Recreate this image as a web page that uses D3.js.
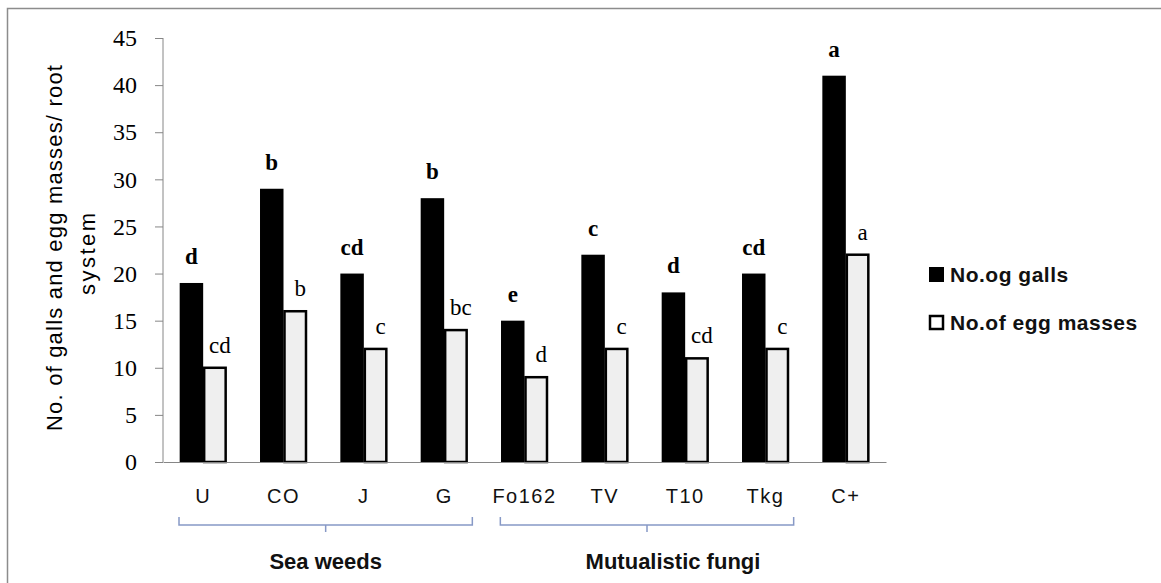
<!DOCTYPE html>
<html>
<head>
<meta charset="utf-8">
<script src="https://cdn.jsdelivr.net/npm/d3@7"></script>
<style>
  body { margin: 0; background: #fff; }
  svg { display: block; }
</style>
</head>
<body>
<div id="chart"></div>
<script>
// data
let categories = ['U', 'CO', 'J', 'G', 'Fo162', 'TV', 'T10', 'Tkg', 'C+'];
let series = ['No.og galls', 'No.of egg masses'];
let galls = [19, 29, 20, 28, 15, 22, 18, 20, 41];
let eggMasses = [10, 16, 12, 14, 9, 12, 11, 12, 22];
let gallLetters = ['d', 'b', 'cd', 'b', 'e', 'c', 'd', 'cd', 'a'];
let eggLetters = ['cd', 'b', 'c', 'bc', 'd', 'c', 'cd', 'c', 'a'];
let yTicks = [0, 5, 10, 15, 20, 25, 30, 35, 40, 45];
let groupNames = ['Sea weeds', 'Mutualistic fungi'];
let groupFirst = ['U', 'Fo162'];
let groupLast = ['G', 'Tkg'];

let width = 1161, height = 583;
let colors = ['#000000', '#efefef'];

let svg = d3.select('#chart').append('svg')
    .attr('width', width)
    .attr('height', height);

svg.append('rect')
    .attr('width', width).attr('height', height)
    .attr('fill', '#fff');

// outer frame (only left and top visible in the picture)
svg.append('rect')
    .attr('x', 7.5).attr('y', 8.5)
    .attr('width', 1300).attr('height', 700)
    .attr('fill', 'none')
    .attr('stroke', '#8c8c8c')
    .attr('stroke-width', 1.5);

let y = d3.scaleLinear().domain([0, 45]).range([462, 38]);
let x0 = d3.scaleBand().domain(categories).range([163, 886]);
let x1 = d3.scaleBand().domain(series).range([0, x0.bandwidth()]).paddingOuter(0.71);

// y axis
let yAxis = svg.append('g')
    .attr('transform', 'translate(163,0)')
    .call(d3.axisLeft(y).tickValues(yTicks).tickSize(8).tickPadding(18));
yAxis.selectAll('line, path').attr('stroke', '#868686');
yAxis.select('.domain').attr('d', 'M0,' + y(45) + 'V' + y(0));
yAxis.selectAll('text')
    .style('font-family', '"Liberation Serif", serif')
    .style('font-size', '24px')
    .attr('fill', '#000');

// bars
let rows = categories.map((c, i) => ({cat: c, vals: [galls[i], eggMasses[i]], letters: [gallLetters[i], eggLetters[i]]}));

let grp = svg.selectAll('.grp')
    .data(rows)
    .enter().append('g')
    .attr('class', 'grp')
    .attr('transform', d => 'translate(' + x0(d.cat) + ',0)');

grp.selectAll('rect')
    .data(d => d.vals.map((v, j) => ({s: series[j], v: v, j: j})))
    .enter().append('rect')
    .attr('x', d => x1(d.s) + (d.j === 1 ? 1 : 0))
    .attr('y', d => y(d.v))
    .attr('width', d => x1.bandwidth() - (d.j === 1 ? 2 : 0))
    .attr('height', d => y(0) - y(d.v))
    .attr('fill', d => colors[d.j])
    .attr('stroke', d => d.j === 1 ? '#000' : 'none')
    .attr('stroke-width', 2.5);

grp.selectAll('.lbl')
    .data(d => d.vals.map((v, j) => ({s: series[j], v: v, j: j, t: d.letters[j]})))
    .enter().append('text')
    .attr('class', 'lbl')
    .attr('x', d => x1(d.s) + x1.bandwidth() / 2 + (d.j === 1 ? 5 : 0))
    .attr('y', d => y(d.v) - (d.j === 0 ? 19 : 15))
    .attr('text-anchor', 'middle')
    .style('font-family', '"Liberation Serif", serif')
    .style('font-size', '23px')
    .style('font-weight', d => d.j === 0 ? 'bold' : 'normal')
    .attr('fill', '#000')
    .text(d => d.t);

// x axis
let xAxis = svg.append('g')
    .attr('transform', 'translate(0,' + y(0) + ')')
    .call(d3.axisBottom(x0).tickSize(0).tickPadding(27));
xAxis.select('.domain').attr('stroke', '#868686');
xAxis.selectAll('text')
    .style('font-family', '"Liberation Sans", sans-serif')
    .style('font-size', '20px')
    .style('letter-spacing', '1.5px')
    .attr('fill', '#111');

// brackets under the category groups
let labelShift = [0, 26];
groupNames.forEach((g, i) => {
    let left = x0(groupFirst[i]) + 16;
    let right = x0(groupLast[i]) + x0.bandwidth() - 12;
    let mid = (left + right) / 2;
    svg.append('path')
        .attr('d', 'M' + left + ',517V525H' + right + 'V517M' + mid + ',525V532')
        .attr('fill', 'none')
        .attr('stroke', '#8799c6')
        .attr('stroke-width', 1.5);
    svg.append('text')
        .attr('x', mid + labelShift[i])
        .attr('y', 569)
        .attr('text-anchor', 'middle')
        .style('font-family', '"Liberation Sans", sans-serif')
        .style('font-size', '22px')
        .style('font-weight', 'bold')
        .attr('fill', '#111')
        .text(g);
});

// y axis title, two lines
let ttl = svg.append('text')
    .attr('transform', 'translate(62,248) rotate(-90)')
    .attr('text-anchor', 'middle')
    .style('font-family', '"Liberation Sans", sans-serif')
    .style('font-size', '22px')
    .attr('fill', '#000');
ttl.append('tspan').attr('x', 0).attr('y', 0)
    .attr('textLength', 366).attr('lengthAdjust', 'spacing')
    .text('No. of galls and egg masses/ root');
ttl.append('tspan').attr('x', -6).attr('y', 33)
    .attr('textLength', 82).attr('lengthAdjust', 'spacing')
    .text('system');

// legend
let legend = svg.selectAll('.leg')
    .data(series)
    .enter().append('g')
    .attr('class', 'leg')
    .attr('transform', (d, i) => 'translate(929,' + (267 + i * 48) + ')');
legend.append('rect')
    .attr('x', (d, i) => i === 1 ? 1 : 0)
    .attr('y', (d, i) => i === 1 ? 1 : 0)
    .attr('width', (d, i) => i === 1 ? 13 : 15)
    .attr('height', (d, i) => i === 1 ? 13 : 15)
    .attr('fill', (d, i) => i === 1 ? '#fff' : '#000')
    .attr('stroke', '#000')
    .attr('stroke-width', (d, i) => i === 1 ? 2.5 : 0);
legend.append('text')
    .attr('x', 21)
    .attr('y', 15)
    .style('font-family', '"Liberation Sans", sans-serif')
    .style('font-size', '21px')
    .style('font-weight', 'bold')
    .style('letter-spacing', '0.5px')
    .attr('fill', '#111')
    .text(d => d);
</script>
</body>
</html>
